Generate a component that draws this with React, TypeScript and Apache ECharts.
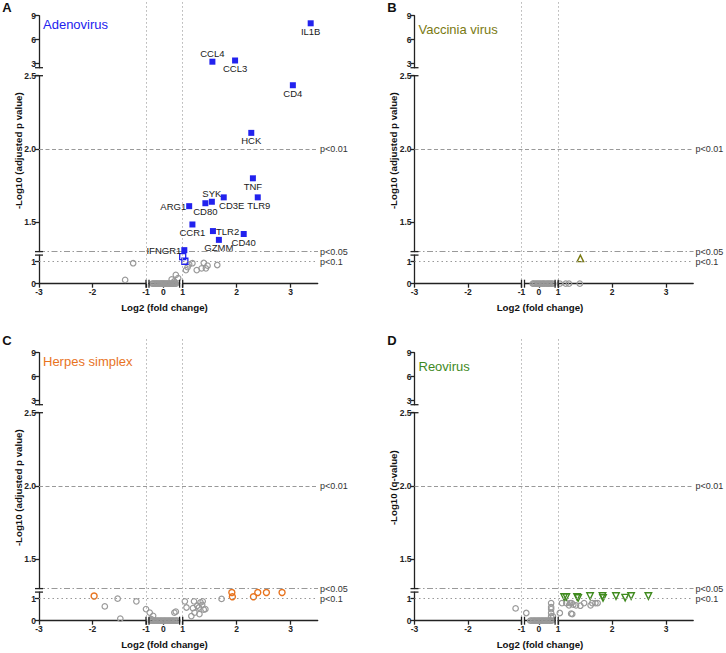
import React, { useEffect, useRef } from 'react';
import * as echarts from 'echarts';

// ---------------- text ----------------
const PANEL_LETTERS = ['A', 'B', 'C', 'D'];
const VIRUS_NAMES = ['Adenovirus', 'Vaccinia virus', 'Herpes simplex', 'Reovirus'];
const Y_AXIS_TITLES = [
  '-Log10 (adjusted p value)',
  '-Log10 (adjusted p value)',
  '-Log10 (adjusted p value)',
  '-Log10 (q-value)',
];
const X_AXIS_TITLE = 'Log2 (fold change)';
const THRESHOLD_LEVELS = [2.0, 1.3, 1.0];
const THRESHOLD_LABELS = ['p<0.01', 'p<0.05', 'p<0.1'];
const FOLD_CUTOFFS = [-1, 1];

// ---------------- broken axes ----------------
const X_SEGMENTS = [[-3, -1], [-0.8, 0.9], [1, 3.5]];
const Y_SEGMENTS = [[0, 1.3], [1.3, 2.5], [2.5, 9]];
const X_TICKS = [[-3, -2, -1], [0], [1, 2, 3]];
const Y_TICKS = [[0, 1], [1.5, 2.0, 2.5], [3, 6, 9]];

// ---------------- data: [log2 fold change, -log10 p] ----------------
const ADENO_GENES = ['IL1B', 'CCL4', 'CCL3', 'CD4', 'HCK', 'TNF', 'TLR9', 'CD3E', 'SYK', 'CD80', 'ARG1', 'CCR1', 'TLR2', 'CD40', 'GZMM', 'IFNGR1'];
const ADENO_GENE_FC = [3.37, 1.55, 1.97, 3.04, 2.27, 2.30, 2.39, 1.76, 1.54, 1.42, 1.12, 1.18, 1.56, 2.13, 1.67, 1.03];
const ADENO_GENE_P = [8.05, 3.25, 3.4, 2.435, 2.11, 1.80, 1.67, 1.67, 1.64, 1.63, 1.61, 1.485, 1.44, 1.42, 1.38, 1.31];
const ADENO_OPEN: number[][] = [[1.0, 1.23], [1.04, 1.02]];
const ADENO_GREY: number[][] = [
  [-1.24, 0.93], [-1.39, 0.17],
  [-0.62, 0], [-0.57, 0], [-0.5, 0], [-0.44, 0], [-0.38, 0], [-0.33, 0], [-0.27, 0], [-0.2, 0],
  [-0.15, 0], [-0.1, 0], [-0.05, 0], [0.0, 0], [0.04, 0], [0.1, 0], [0.15, 0], [0.2, 0],
  [0.26, 0], [0.31, 0], [0.36, 0], [0.42, 0], [0.48, 0], [0.53, 0], [0.58, 0], [0.64, 0], [0.7, 0],
  [0.46, 0.2], [0.69, 0.4], [0.82, 0.25], [0.6, 0.1],
  [1.06, 0.62], [1.09, 0.75], [1.12, 0.88], [1.18, 0.93], [1.26, 0.62], [1.35, 0.7],
  [1.39, 0.95], [1.43, 0.7], [1.46, 0.82], [1.64, 0.85],
];

const VACC_GREY: number[][] = [
  [-0.34, 0], [-0.28, 0], [-0.2, 0], [-0.12, 0], [-0.05, 0], [0.02, 0], [0.1, 0], [0.18, 0],
  [0.25, 0], [0.32, 0], [0.4, 0], [0.48, 0], [0.55, 0], [0.62, 0], [0.7, 0], [0.78, 0],
  [1.03, 0], [1.14, 0], [1.2, 0], [1.4, 0],
];
const VACC_SIG: number[][] = [[1.41, 1.15]];

const HERPES_GREY: number[][] = [
  [-1.77, 0.65], [-1.53, 1.0], [-1.48, 0.09], [-1.18, 0.88], [-1.0, 0.53],
  [-0.76, 0.37], [-0.57, 0.22], [-0.67, 0.07], [0.61, 0.37], [0.69, 0.41],
  [-0.7, 0], [-0.62, 0], [-0.55, 0], [-0.47, 0], [-0.4, 0], [-0.32, 0], [-0.25, 0], [-0.17, 0],
  [-0.1, 0], [-0.02, 0], [0.05, 0], [0.12, 0], [0.2, 0], [0.27, 0], [0.35, 0], [0.42, 0],
  [0.5, 0], [0.57, 0], [0.65, 0], [0.72, 0], [0.78, 0],
  [1.04, 0.88], [1.07, 0.6], [1.16, 0.21], [1.19, 0.57], [1.21, 0.88], [1.22, 0.37],
  [1.27, 0.68], [1.30, 0.6], [1.33, 0.83], [1.31, 0.3], [1.36, 0.72], [1.39, 0.5],
  [1.42, 0.53], [1.37, 0.88], [1.72, 0.99],
];
const HERPES_SIG: number[][] = [[-1.97, 1.12], [1.91, 1.28], [1.92, 1.09], [2.31, 1.09], [2.39, 1.28], [2.55, 1.28], [2.84, 1.28]];

const REO_GREY: number[][] = [
  [-1.11, 0.56], [-0.7, 0.35],
  [-0.48, 0], [-0.4, 0], [-0.32, 0], [-0.25, 0], [-0.17, 0], [-0.1, 0], [-0.02, 0], [0.05, 0],
  [0.13, 0], [0.2, 0], [0.28, 0], [0.35, 0], [0.43, 0], [0.5, 0], [0.58, 0], [0.65, 0], [0.72, 0],
  [0.68, 0.8], [0.68, 0.62], [0.68, 0.53], [0.68, 0.35], [0.68, 0.2], [0.78, 0.2],
  [1.03, 0.35], [1.07, 0.8], [1.15, 0.8], [1.2, 0.7], [1.22, 0.8], [1.25, 0.8], [1.24, 0.32],
  [1.26, 0.3], [1.28, 0.73], [1.33, 0.7], [1.41, 0.68], [1.48, 0.8], [1.6, 0.7], [1.63, 0.8],
  [1.69, 0.8], [1.73, 0.8],
];
const REO_SIG: number[][] = [[1.11, 1.08], [1.15, 1.08], [1.35, 1.08], [1.37, 1.03], [1.59, 1.12], [1.82, 1.12], [1.83, 1.03], [2.07, 1.12], [2.24, 1.05], [2.35, 1.12], [2.67, 1.12]];

// ---------------- styles / layout ----------------
const FONT = '"Liberation Sans", Arial, Helvetica, sans-serif';
const AXIS_COLOR = '#222';
const GREY = '#999999';
const REF_COLOR = '#999999';
const VIRUS_COLORS = ['#2222EE', '#7A7A12', '#E8731E', '#3F8A1E'];
const LABEL_STYLE: Record<string, { pos: string; offset?: number[] }> = {
  IL1B: { pos: 'bottom' }, CCL4: { pos: 'top' }, CCL3: { pos: 'bottom' }, CD4: { pos: 'bottom' },
  HCK: { pos: 'bottom' }, TNF: { pos: 'bottom' }, TLR9: { pos: 'bottom', offset: [1, 0] },
  CD3E: { pos: 'bottom', offset: [8, 0] }, SYK: { pos: 'top' }, CD80: { pos: 'bottom' },
  ARG1: { pos: 'left' }, CCR1: { pos: 'bottom' }, TLR2: { pos: 'right' }, CD40: { pos: 'bottom' },
  GZMM: { pos: 'bottom' }, IFNGR1: { pos: 'left' },
};
const THRESHOLD_DASH = [[4, 2.5], [6, 2.5, 1.5, 2.5], [1.5, 3]];

const COL_LEFT = [39, 414.5];
const ROW_TOP = [15.7, 352.7];
const X_SEG_PX = [[0, 107], [110, 140.6], [143.7, 278.7]];
const Y_SEG_PX = [[239.4, 268], [60, 235.9], [0, 52]];
const PLOT_WIDTH = 279;
const LINE_ABOVE = 16;
const TITLE_DY = [8.3, 13.6];
const LETTER_X = [7, 392];
const LETTER_Y = [7, 340];

function segIndex(v: number, segs: number[][]) {
  for (let i = 0; i < segs.length; i++) if (v >= segs[i][0] - 1e-9 && v <= segs[i][1] + 1e-9) return i;
  let best = 0;
  let bd = Infinity;
  segs.forEach((s, i) => {
    const d = Math.min(Math.abs(v - s[0]), Math.abs(v - s[1]));
    if (d < bd) { bd = d; best = i; }
  });
  return best;
}

type Group = {
  points: any[];
  symbol: string;
  size: number;
  color: string;
  filled: boolean;
  rotate?: number;
  borderWidth?: number;
  z?: number;
};

function buildOption() {
  const grids: any[] = [];
  const xAxes: any[] = [];
  const yAxes: any[] = [];
  const series: any[] = [];
  const graphics: any[] = [];

  const addGrid = (left: number, top: number, width: number, height: number, xa: any, ya: any) => {
    grids.push({ left, top, width, height, containLabel: false, outerBoundsMode: 'none' });
    const i = grids.length - 1;
    xAxes.push({ ...xa, gridIndex: i });
    yAxes.push({ ...ya, gridIndex: i });
    return i;
  };
  const hidden = (min: number, max: number) => ({ type: 'value', min, max, show: false });
  const shownX = (xs: number) => ({
    type: 'value', min: X_SEGMENTS[xs][0], max: X_SEGMENTS[xs][1],
    axisLine: { show: true, onZero: false, lineStyle: { color: AXIS_COLOR, width: 1.3 } },
    axisTick: { show: true, length: 4, customValues: X_TICKS[xs], lineStyle: { color: AXIS_COLOR, width: 1.3 } },
    axisLabel: { show: true, customValues: X_TICKS[xs], fontSize: 8.5, fontWeight: 'bold', color: AXIS_COLOR, margin: 4, fontFamily: FONT },
    splitLine: { show: false },
  });
  const shownY = (ys: number) => ({
    type: 'value', min: Y_SEGMENTS[ys][0], max: Y_SEGMENTS[ys][1],
    axisLine: { show: true, onZero: false, lineStyle: { color: AXIS_COLOR, width: 1.3 } },
    axisTick: { show: true, length: 4, customValues: Y_TICKS[ys], lineStyle: { color: AXIS_COLOR, width: 1.3 } },
    axisLabel: {
      show: true, customValues: Y_TICKS[ys], fontSize: 8.5, fontWeight: 'bold', color: AXIS_COLOR, margin: 3, fontFamily: FONT,
      formatter: (v: number) => (ys === 1 ? v.toFixed(1) : String(v)),
    },
    splitLine: { show: false },
  });

  const adenoNamed = ADENO_GENES.map((g, i) => ({ name: g, value: [ADENO_GENE_FC[i], ADENO_GENE_P[i]] }));
  const panels: Group[][] = [
    [
      { points: ADENO_GREY, symbol: 'circle', size: 5.5, color: GREY, filled: false },
      { points: ADENO_OPEN, symbol: 'rect', size: 6, color: VIRUS_COLORS[0], filled: false, borderWidth: 1.3, z: 4 },
      { points: adenoNamed, symbol: 'rect', size: 6, color: VIRUS_COLORS[0], filled: true, z: 5 },
    ],
    [
      { points: VACC_GREY, symbol: 'circle', size: 5.5, color: GREY, filled: false },
      { points: VACC_SIG, symbol: 'triangle', size: 6.5, color: VIRUS_COLORS[1], filled: false, borderWidth: 1.4, z: 4 },
    ],
    [
      { points: HERPES_GREY, symbol: 'circle', size: 5.5, color: GREY, filled: false },
      { points: HERPES_SIG, symbol: 'circle', size: 6, color: VIRUS_COLORS[2], filled: false, borderWidth: 1.4, z: 4 },
    ],
    [
      { points: REO_GREY, symbol: 'circle', size: 5.5, color: GREY, filled: false },
      { points: REO_SIG, symbol: 'triangle', size: 6.5, color: VIRUS_COLORS[3], filled: false, rotate: 180, borderWidth: 1.4, z: 4 },
    ],
  ];

  panels.forEach((groups, pi) => {
    const X0 = COL_LEFT[pi % 2];
    const Y0 = ROW_TOP[Math.floor(pi / 2)];
    const gridIdx: number[][] = [];

    // reference-line overlays (drawn first, underneath)
    const midOv = addGrid(X0, Y0 + Y_SEG_PX[1][0], PLOT_WIDTH, Y_SEG_PX[1][1] - Y_SEG_PX[1][0], hidden(0, 1), hidden(Y_SEGMENTS[1][0], Y_SEGMENTS[1][1]));
    const botOv = addGrid(X0, Y0 + Y_SEG_PX[0][0], PLOT_WIDTH, Y_SEG_PX[0][1] - Y_SEG_PX[0][0], hidden(0, 1), hidden(Y_SEGMENTS[0][0], Y_SEGMENTS[0][1]));
    THRESHOLD_LEVELS.forEach((lv, ti) => {
      const gi = lv >= Y_SEGMENTS[1][0] ? midOv : botOv;
      series.push({
        type: 'scatter', xAxisIndex: gi, yAxisIndex: gi, data: [], silent: true, z: 1,
        markLine: {
          silent: true, symbol: ['none', 'none'], animation: false,
          data: [{
            yAxis: lv,
            lineStyle: { color: REF_COLOR, width: 1, type: THRESHOLD_DASH[ti], opacity: 1 },
            label: { show: true, position: 'end', formatter: THRESHOLD_LABELS[ti], fontSize: 9, color: '#333', distance: 2, fontFamily: FONT },
          }],
        },
      });
    });
    FOLD_CUTOFFS.forEach((fc) => {
      const xs = segIndex(fc, X_SEGMENTS);
      const gi = addGrid(
        X0 + X_SEG_PX[xs][0], Y0 - LINE_ABOVE, X_SEG_PX[xs][1] - X_SEG_PX[xs][0], Y_SEG_PX[0][1] + LINE_ABOVE,
        hidden(X_SEGMENTS[xs][0], X_SEGMENTS[xs][1]), hidden(0, 1),
      );
      series.push({
        type: 'scatter', xAxisIndex: gi, yAxisIndex: gi, data: [], silent: true, z: 1,
        markLine: {
          silent: true, symbol: ['none', 'none'], animation: false,
          data: [{ xAxis: fc, lineStyle: { color: '#b0b0b0', width: 1, type: [1.5, 2.5], opacity: 1 }, label: { show: false } }],
        },
      });
    });

    // segment grids
    for (let ys = 0; ys < 3; ys++) {
      gridIdx.push([]);
      for (let xs = 0; xs < 3; xs++) {
        const left = X0 + X_SEG_PX[xs][0];
        const width = X_SEG_PX[xs][1] - X_SEG_PX[xs][0];
        const top = Y0 + Y_SEG_PX[ys][0];
        const height = Y_SEG_PX[ys][1] - Y_SEG_PX[ys][0];
        const xa = ys === 0 ? shownX(xs) : hidden(X_SEGMENTS[xs][0], X_SEGMENTS[xs][1]);
        const ya = xs === 0 ? shownY(ys) : hidden(Y_SEGMENTS[ys][0], Y_SEGMENTS[ys][1]);
        gridIdx[ys].push(addGrid(left, top, width, height, xa, ya));
      }
    }

    groups.forEach((g) => {
      const buckets: Record<string, any[]> = {};
      g.points.forEach((pt: any) => {
        const v = Array.isArray(pt) ? pt : pt.value;
        const key = segIndex(v[1], Y_SEGMENTS) + '_' + segIndex(v[0], X_SEGMENTS);
        let item: any = v;
        if (!Array.isArray(pt)) {
          const ls = LABEL_STYLE[pt.name];
          item = {
            name: pt.name, value: v,
            label: {
              show: true, position: ls.pos, distance: 0, offset: ls.offset || [0, 0], formatter: '{b}',
              fontSize: 9.5, color: '#1a1a1a', fontFamily: FONT,
            },
          };
        }
        (buckets[key] = buckets[key] || []).push(item);
      });
      Object.keys(buckets).forEach((key) => {
        const [ys, xs] = key.split('_').map(Number);
        const gi = gridIdx[ys][xs];
        series.push({
          type: 'scatter', xAxisIndex: gi, yAxisIndex: gi, clip: false, silent: true,
          symbol: g.symbol, symbolSize: g.size, symbolRotate: g.rotate || 0, z: g.z || 3,
          itemStyle: g.filled
            ? { color: g.color, opacity: 1 }
            : { color: 'rgba(255,255,255,0)', borderColor: g.color, borderWidth: g.borderWidth || 1.2, opacity: 1 },
          data: buckets[key],
        });
      });
    });

    // break caps on y axis
    const capY = [Y0 + Y_SEG_PX[2][1], Y0 + Y_SEG_PX[1][0], Y0 + Y_SEG_PX[1][1], Y0 + Y_SEG_PX[0][0]];
    capY.forEach((cy) => {
      graphics.push({ type: 'line', shape: { x1: X0 - 4, y1: cy, x2: X0 + 4, y2: cy }, style: { stroke: AXIS_COLOR, lineWidth: 1.3 }, z: 10 });
    });
    // break caps on x axis
    const baseY = Y0 + Y_SEG_PX[0][1];
    const capX = [X0 + X_SEG_PX[0][1], X0 + X_SEG_PX[1][0], X0 + X_SEG_PX[1][1], X0 + X_SEG_PX[2][0]];
    capX.forEach((cx) => {
      graphics.push({ type: 'line', shape: { x1: cx, y1: baseY - 4, x2: cx, y2: baseY + 4 }, style: { stroke: AXIS_COLOR, lineWidth: 1.3 }, z: 10 });
    });

    // texts
    graphics.push({
      type: 'text', x: LETTER_X[pi % 2], y: LETTER_Y[Math.floor(pi / 2)],
      style: { text: PANEL_LETTERS[pi], fill: '#111', fontSize: 13, fontWeight: 'bold', fontFamily: FONT, align: 'center', verticalAlign: 'middle' },
    });
    graphics.push({
      type: 'text', x: X0 + 4, y: Y0 + TITLE_DY[pi % 2],
      style: { text: VIRUS_NAMES[pi], fill: VIRUS_COLORS[pi], fontSize: 13, fontFamily: FONT, align: 'left', verticalAlign: 'middle' },
    });
    graphics.push({
      type: 'text', x: X0 - 21, y: Y0 + 135, rotation: Math.PI / 2,
      style: { text: Y_AXIS_TITLES[pi], fill: '#111', fontSize: 9.7, fontWeight: 'bold', fontFamily: FONT, align: 'center', verticalAlign: 'middle' },
    });
    graphics.push({
      type: 'text', x: X0 + 125.5, y: Y0 + 292,
      style: { text: X_AXIS_TITLE, fill: '#111', fontSize: 9.7, fontWeight: 'bold', fontFamily: FONT, align: 'center', verticalAlign: 'middle' },
    });
  });

  return {
    animation: false,
    backgroundColor: '#fff',
    textStyle: { fontFamily: FONT },
    grid: grids,
    xAxis: xAxes,
    yAxis: yAxes,
    series,
    graphic: graphics,
  };
}

export default function App() {
  const ref = useRef<HTMLDivElement>(null);
  useEffect(() => {
    if (!ref.current) return;
    const chart = echarts.init(ref.current, null, { renderer: 'svg' });
    chart.setOption(buildOption() as any);
    return () => chart.dispose();
  }, []);
  return <div ref={ref} style={{ position: 'fixed', left: 0, top: 0, width: 726, height: 653, background: '#fff' }} />;
}
